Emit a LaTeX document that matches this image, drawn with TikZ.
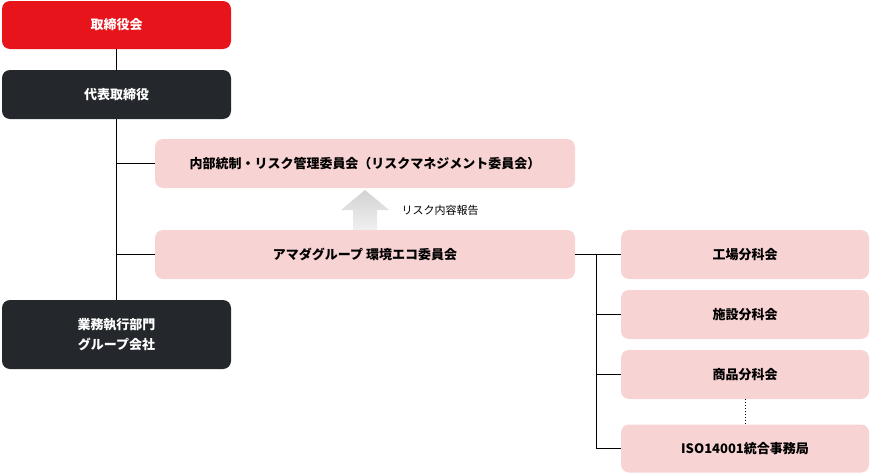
\documentclass[tikz,border=0pt]{standalone}
\usepackage{fontspec}
\setmainfont{Noto Sans CJK JP}
\newfontfamily\cjkb{Noto Sans CJK JP}[BoldFont={* Bold}]
\definecolor{redc}{HTML}{E8141B}
\definecolor{darkc}{HTML}{24272B}
\definecolor{pinkc}{HTML}{F8D3D4}
\begin{document}
\begin{tikzpicture}[x=1pt,y=-1pt,
  bx/.style={rounded corners=8pt,draw=none,inner sep=0pt,align=center,font=\fontsize{13}{20}\selectfont\bfseries},
  ln/.style={line width=1pt,black}]
\useasboundingbox (0,0) rectangle (871,474);
\node[bx,fill=redc,text=white,minimum width=229pt,minimum height=48pt] (bod) at (116.5,25) {取締役会};
\node[bx,fill=darkc,text=white,minimum width=229pt,minimum height=49pt] (ceo) at (116.5,94.5) {代表取締役};
\node[bx,fill=darkc,text=white,minimum width=229pt,minimum height=69pt] (grp) at (116.5,334.5) {業務執行部門\\グループ会社};
\node[bx,fill=pinkc,text=black,minimum width=420pt,minimum height=49pt] (risk) at (365,163.5) {内部統制・リスク管理委員会（リスクマネジメント委員会）};
\node[bx,fill=pinkc,text=black,minimum width=420pt,minimum height=49pt] (eco) at (365,254.5) {アマダグループ 環境エコ委員会};
\node[bx,fill=pinkc,text=black,minimum width=248pt,minimum height=49pt] (f1) at (745,254.5) {工場分科会};
\node[bx,fill=pinkc,text=black,minimum width=248pt,minimum height=49pt] (f2) at (745,314.5) {施設分科会};
\node[bx,fill=pinkc,text=black,minimum width=248pt,minimum height=49pt] (f3) at (745,374.5) {商品分科会};
\node[bx,fill=pinkc,text=black,minimum width=248pt,minimum height=48pt] (f4) at (745,448.5) {ISO14001統合事務局};
\coordinate (tA) at (117,163.5);
\coordinate (tB) at (117,254.5);
\coordinate (bA) at (596,254.5);
\coordinate (bB) at (596,448.5);
\draw[ln] (bod.south) -- (ceo.north);
\draw[ln] (ceo.south) -- (grp.north);
\draw[ln] (tA) -- (risk.west);
\draw[ln] (tB) -- (eco.west);
\draw[ln] (eco.east) -- (f1.west);
\draw[ln] (bA) -- (bB);
\draw[ln] (f2.west -| bA) -- (f2.west);
\draw[ln] (f3.west -| bA) -- (f3.west);
\draw[ln] (bB) -- (f4.west);
\draw[line width=1pt,dotted] (f3.south) -- (f4.north);
\shade[top color=gray!35,bottom color=gray!12] (353,230) -- (353,210) -- (341,210) -- (365,190) -- (389,210) -- (377,210) -- (377,230) -- cycle;
\node[font=\fontsize{11}{13}\selectfont,anchor=west] (lbl) at (398,210) {リスク内容報告};
\end{tikzpicture}
\end{document}
